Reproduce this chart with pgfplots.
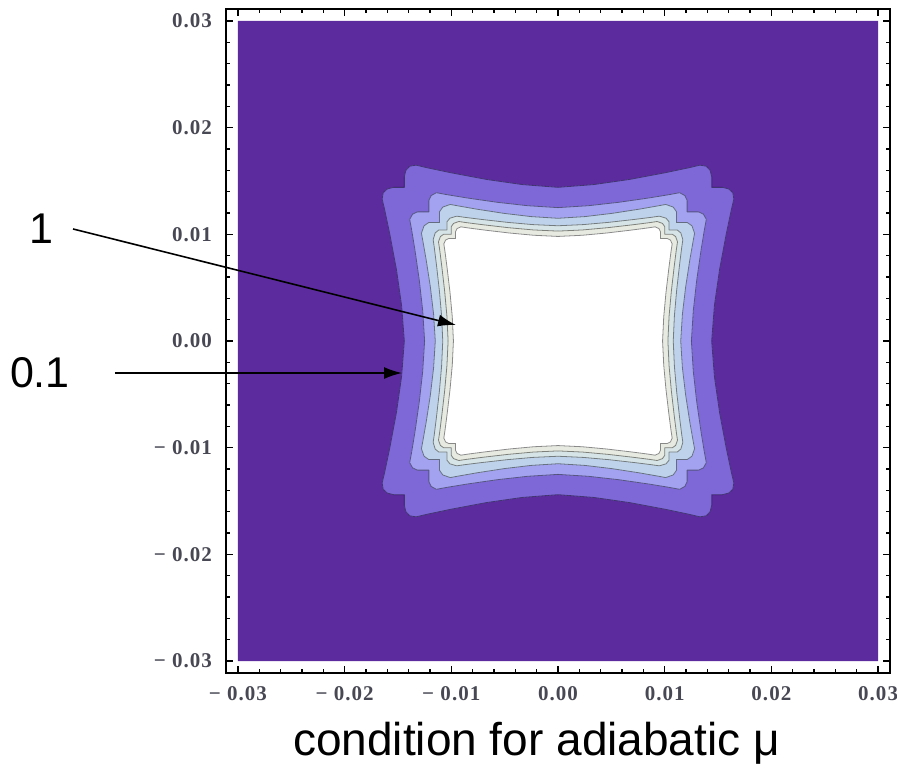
\documentclass[border=0pt]{standalone}
\usepackage{fontspec}
\setmainfont{Liberation Sans}
\newfontfamily\tickfont[LetterSpace=5]{Liberation Serif}
\usepackage{pgfplots}
\usepackage{pgfplotstable}
\pgfplotsset{compat=1.18}
\usetikzlibrary{arrows.meta}

\definecolor{bgp}{RGB}{92,43,158}
\definecolor{lvA}{RGB}{126,104,216}
\definecolor{lvB}{RGB}{162,162,240}
\definecolor{lvC}{RGB}{190,210,236}
\definecolor{lvD}{RGB}{214,228,232}
\definecolor{lvE}{RGB}{230,234,224}
\definecolor{tickgray}{RGB}{72,72,84}

% one quadrant of each contour (first row = centre, used only for filling)
\pgfplotstableread{
x y
0 0
0 0.0144
0.00335 0.01466
0.0067 0.01514
0.01005 0.01577
0.01233 0.01625
0.0133 0.01648
0.0139 0.01638
0.01425 0.01600
0.0144 0.01540
0.0144 0.01457
0.0144 0.0144
0.01457 0.0144
0.01540 0.0144
0.01600 0.01425
0.01638 0.0139
0.01648 0.0133
0.01625 0.01233
0.01577 0.01005
0.01514 0.0067
0.01466 0.00335
0.0144 0
}\Cone
\pgfplotstableread{
x y
0 0
0 0.0125
0.00285 0.01268
0.0057 0.0130
0.00855 0.01341
0.01049 0.01373
0.0114 0.0139
0.01189 0.01363
0.0121 0.01318
0.0121 0.01224
0.0121 0.0121
0.01224 0.0121
0.01318 0.0121
0.01363 0.01189
0.0139 0.0114
0.01373 0.01049
0.01341 0.00855
0.0130 0.0057
0.01268 0.00285
0.0125 0
}\Ctwo
\pgfplotstableread{
x y
0 0
0 0.0115
0.00253 0.01166
0.00505 0.01196
0.00758 0.01235
0.00929 0.01265
0.0101 0.0128
0.0108 0.01255
0.0111 0.01212
0.0111 0.01124
0.0111 0.0111
0.01124 0.0111
0.01212 0.0111
0.01255 0.0108
0.0128 0.0101
0.01265 0.00929
0.01235 0.00758
0.01196 0.00505
0.01166 0.00253
0.0115 0
}\Cthree
\pgfplotstableread{
x y
0 0
0 0.0108
0.00238 0.01091
0.00475 0.01112
0.00713 0.01139
0.00874 0.01159
0.0095 0.0117
0.01013 0.01151
0.0104 0.01118
0.0104 0.0105
0.0104 0.0104
0.0105 0.0104
0.01118 0.0104
0.01151 0.01013
0.0117 0.0095
0.01159 0.00874
0.01139 0.00713
0.01112 0.00475
0.01091 0.00238
0.0108 0
}\Cfour
\pgfplotstableread{
x y
0 0
0 0.0103
0.00233 0.01041
0.00465 0.01062
0.00698 0.01089
0.00856 0.01109
0.0093 0.0112
0.00979 0.01102
0.0100 0.01072
0.0100 0.0101
0.0100 0.0100
0.0101 0.0100
0.01072 0.0100
0.01102 0.00979
0.0112 0.0093
0.01109 0.00856
0.01089 0.00698
0.01062 0.00465
0.01041 0.00233
0.0103 0
}\Cfive
\pgfplotstableread{
x y
0 0
0 0.0098
0.00228 0.00991
0.00455 0.01012
0.00683 0.01039
0.00837 0.01059
0.0091 0.0107
0.00945 0.01054
0.0096 0.01026
0.0096 0.00969
0.0096 0.0096
0.00969 0.0096
0.01026 0.0096
0.01054 0.00945
0.0107 0.0091
0.01059 0.00837
0.01039 0.00683
0.01012 0.00455
0.00991 0.00228
0.0098 0
}\Csix

\newcommand{\quadfill}[2]{%
  \addplot[fill=#2, draw=#2, line width=0.6pt] table[x expr=\thisrow{x}, y expr=\thisrow{y}] {#1};
  \addplot[fill=#2, draw=#2, line width=0.6pt] table[x expr=-\thisrow{x}, y expr=\thisrow{y}] {#1};
  \addplot[fill=#2, draw=#2, line width=0.6pt] table[x expr=\thisrow{x}, y expr=-\thisrow{y}] {#1};
  \addplot[fill=#2, draw=#2, line width=0.6pt] table[x expr=-\thisrow{x}, y expr=-\thisrow{y}] {#1};
}
\newcommand{\quadline}[1]{%
  \addplot[draw=black, draw opacity=0.45, line width=0.8pt, line join=round, skip coords between index={0}{1}] table[x expr=\thisrow{x}, y expr=\thisrow{y}] {#1};
  \addplot[draw=black, draw opacity=0.45, line width=0.8pt, line join=round, skip coords between index={0}{1}] table[x expr=-\thisrow{x}, y expr=\thisrow{y}] {#1};
  \addplot[draw=black, draw opacity=0.45, line width=0.8pt, line join=round, skip coords between index={0}{1}] table[x expr=\thisrow{x}, y expr=-\thisrow{y}] {#1};
  \addplot[draw=black, draw opacity=0.45, line width=0.8pt, line join=round, skip coords between index={0}{1}] table[x expr=-\thisrow{x}, y expr=-\thisrow{y}] {#1};
}

\begin{document}
\begin{tikzpicture}
\begin{axis}[
  scale only axis, width=663.7pt, height=663.7pt,
  xmin=-0.0311, xmax=0.0311, ymin=-0.0311, ymax=0.0311,
  axis line style={line width=1.6pt, black},
  tick style={line width=1.3pt, black},
  major tick length=7pt, minor tick length=4pt,
  tick align=inside, tick pos=both,
  xtick={-0.03,-0.02,-0.01,0,0.01,0.02,0.03},
  ytick={-0.03,-0.02,-0.01,0,0.01,0.02,0.03},
  xticklabels={−~0.03,−~0.02,−~0.01,0.00,0.01,0.02,0.03},
  yticklabels={−~0.03,−~0.02,−~0.01,0.00,0.01,0.02,0.03},
  minor tick num=4,
  scaled ticks=false,
  ticklabel style={font=\tickfont\bfseries\fontsize{21}{23}\selectfont, text=tickgray, inner sep=0pt},
  xticklabel style={anchor=north, yshift=-13pt},
  yticklabel style={anchor=east, xshift=-14pt},
  clip=false,
  axis on top,
]
\addplot[fill=bgp, draw=none] coordinates {(-0.03,-0.03) (0.03,-0.03) (0.03,0.03) (-0.03,0.03) (-0.03,-0.03)};
\quadfill{\Cone}{lvA}
\quadfill{\Ctwo}{lvB}
\quadfill{\Cthree}{lvC}
\quadfill{\Cfour}{lvD}
\quadfill{\Cfive}{lvE}
\quadfill{\Csix}{white}
\quadline{\Cone}
\quadline{\Ctwo}
\quadline{\Cthree}
\quadline{\Cfour}
\quadline{\Cfive}
\quadline{\Csix}

\draw[line width=1.6pt, -{Latex[length=18pt,width=12pt]}] (axis cs:-0.04545,0.0105) -- (axis cs:-0.00956,0.0015);
\draw[line width=1.6pt, -{Latex[length=18pt,width=12pt]}] (axis cs:-0.04152,-0.003) -- (axis cs:-0.01462,-0.003);
\node[inner sep=0pt, font=\fontsize{43}{46}\selectfont] at (axis cs:-0.04845,0.0105) {1};
\node[inner sep=0pt, font=\fontsize{43}{46}\selectfont] at (axis cs:-0.04855,-0.00295) {0.1};
\node[anchor=base west, inner sep=0pt, font=\fontsize{46}{50}\selectfont] at (axis cs:-0.02484,-0.03889) {condition for adiabatic μ};

\coordinate (BBa) at (axis cs:-0.052296,-0.040019);
\coordinate (BBb) at (axis cs:0.031771,0.031959);
\end{axis}
\pgfresetboundingbox
\path[use as bounding box] (BBa) rectangle (BBb);
\end{tikzpicture}
\end{document}
